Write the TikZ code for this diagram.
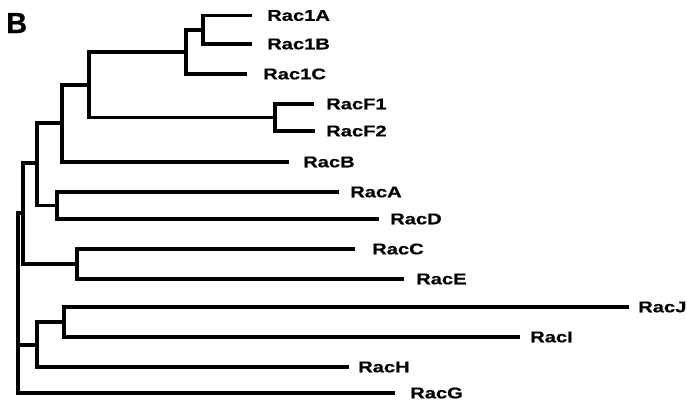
\documentclass[tikz,border=0pt]{standalone}
\usepackage{fontspec}
\setmainfont{Liberation Sans}
\newfontfamily\lblfont[FakeStretch=1.3,FakeBold=0.6]{Liberation Sans Bold}
\newfontfamily\panelfont[FakeBold=0.6]{Liberation Sans Bold}
\begin{document}
\begin{tikzpicture}[x=1pt,y=-1pt,
  branch/.style={line width=3.4pt,line cap=rect,line join=miter},
  leaf/.style={anchor=west,inner sep=0pt,font=\lblfont\fontsize{15.5}{17}\selectfont}]
\useasboundingbox (0,0) rectangle (687,402);
% panel letter
\node[anchor=base west,inner sep=0pt,font=\panelfont\fontsize{29}{31}\selectfont] (panel) at (6,33) {B};
% internal nodes
\coordinate (n1) at (203,30);
\coordinate (n2) at (186,52);
\coordinate (n3) at (275,117.5);
\coordinate (n4) at (89,85);
\coordinate (n5) at (62,123);
\coordinate (n6) at (57,205.5);
\coordinate (n7) at (37,163);
\coordinate (n8) at (77,264);
\coordinate (n9) at (23,213);
\coordinate (n10) at (64,322);
\coordinate (n11) at (37,345);
\coordinate (root) at (18,300);
% leaf tips
\coordinate (t1A) at (250,15.5);
\coordinate (t1B) at (250,44);
\coordinate (t1C) at (245,74);
\coordinate (tF1) at (312,104);
\coordinate (tF2) at (313,131);
\coordinate (tB) at (287,162);
\coordinate (tA) at (337,192);
\coordinate (tD) at (377,219);
\coordinate (tC) at (353,249);
\coordinate (tE) at (402,279);
\coordinate (tJ) at (627,307);
\coordinate (tI) at (518,337);
\coordinate (tH) at (347,367);
\coordinate (tG) at (393,393);
% labels
\node[leaf] (l1A) at (267,15.5) {Rac1A};
\node[leaf] (l1B) at (267,44) {Rac1B};
\node[leaf] (l1C) at (263,74) {Rac1C};
\node[leaf] (lF1) at (326,104) {RacF1};
\node[leaf] (lF2) at (326,131) {RacF2};
\node[leaf] (lB) at (303,162) {RacB};
\node[leaf] (lA) at (350,192) {RacA};
\node[leaf] (lD) at (390,219) {RacD};
\node[leaf] (lC) at (372,249) {RacC};
\node[leaf] (lE) at (416,279) {RacE};
\node[leaf] (lJ) at (638,307) {RacJ};
\node[leaf] (lI) at (530,337) {RacI};
\node[leaf] (lH) at (358,367) {RacH};
\node[leaf] (lG) at (410,393) {RacG};
% branches
\draw[branch] (t1A) -| (n1) |- (t1B);
\draw[branch] (n2) |- (n1);
\draw[branch] (n2) |- (t1C);
\draw[branch] (tF1) -| (n3) |- (tF2);
\draw[branch] (n3) -| (n4) |- (n2);
\draw[branch] (n5) |- (n4);
\draw[branch] (n5) |- (tB);
\draw[branch] (tA) -| (n6) |- (tD);
\draw[branch] (n7) |- (n5);
\draw[branch] (n7) |- (n6);
\draw[branch] (tC) -| (n8) |- (tE);
\draw[branch] (n9) |- (n7);
\draw[branch] (n9) |- (n8);
\draw[branch] (tJ) -| (n10) |- (tI);
\draw[branch] (n11) |- (n10);
\draw[branch] (n11) |- (tH);
\draw[branch] (root) |- (n9);
\draw[branch] (root) |- (n11);
\draw[branch] (root) |- (tG);
\end{tikzpicture}
\end{document}
